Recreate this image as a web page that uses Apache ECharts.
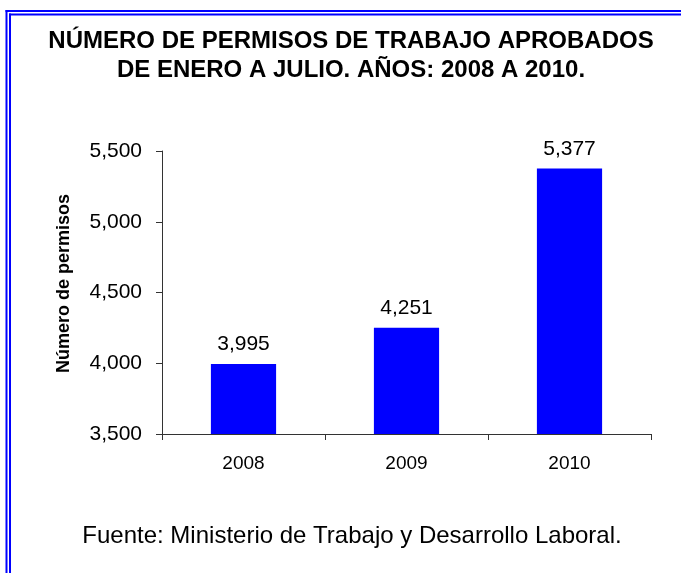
<!DOCTYPE html>
<html>
<head>
<meta charset="utf-8">
<script src="https://cdn.jsdelivr.net/npm/echarts@6/dist/echarts.min.js"></script>
<style>
  html, body { margin: 0; padding: 0; background: #fff; }
  #chart { width: 681px; height: 573px; }
</style>
</head>
<body>
<div id="chart"></div>
<script>
// datos del grafico
var years = ['2008', '2009', '2010'];
var permisos = [3995, 4251, 5377];
var yTicks = [3500, 4000, 4500, 5000, 5500];

var chart = echarts.init(document.getElementById('chart'));

function conComa(v) {
    return String(v).replace(/\B(?=(\d{3})+(?!\d))/g, ',');
}

var azul = '#0000ff';
var fuente = 'Liberation Sans, Arial, sans-serif';

var option = {
    backgroundColor: '#fff',
    animation: false,
    title: [{
        text: 'NÚMERO DE PERMISOS DE TRABAJO APROBADOS\nDE ENERO A JULIO. AÑOS: 2008 A 2010.',
        left: 346,
        top: 22,
        textAlign: 'center',
        textStyle: {
            fontFamily: fuente,
            fontSize: 24,
            fontWeight: 'bold',
            lineHeight: 29,
            color: '#000'
        }
    }, {
        text: 'Fuente: Ministerio de Trabajo y Desarrollo Laboral.',
        left: 347,
        top: 519,
        textAlign: 'center',
        textStyle: {
            fontFamily: fuente,
            fontSize: 24,
            fontWeight: 'normal',
            color: '#000'
        }
    }],
    grid: {
        left: 162,
        right: 30,
        top: 151,
        bottom: 139
    },
    xAxis: {
        type: 'category',
        data: years,
        axisLine: { lineStyle: { color: '#333', width: 1 } },
        axisTick: { show: true, length: 6, lineStyle: { color: '#333' } },
        axisLabel: {
            margin: 20,
            fontFamily: fuente,
            fontSize: 19,
            color: '#000'
        }
    },
    yAxis: {
        type: 'value',
        min: yTicks[0],
        max: yTicks[yTicks.length - 1],
        interval: 500,
        name: 'Número de permisos',
        nameLocation: 'middle',
        nameGap: 89,
        nameTextStyle: {
            fontFamily: fuente,
            fontSize: 18,
            fontWeight: 'bold',
            color: '#000',
            padding: [0, 0, 0, 18]
        },
        axisLine: { show: true, lineStyle: { color: '#333', width: 1 } },
        axisTick: { show: true, length: 6, lineStyle: { color: '#333' } },
        splitLine: { show: false },
        axisLabel: {
            margin: 20,
            fontFamily: fuente,
            fontSize: 21,
            color: '#000',
            formatter: function(v) { return conComa(v); }
        }
    },
    series: [{
        type: 'bar',
        data: permisos,
        barCategoryGap: '60%',
        itemStyle: { color: azul },
        label: {
            show: true,
            position: 'top',
            distance: 9,
            fontFamily: fuente,
            fontSize: 21,
            color: '#000',
            formatter: function(p) { return conComa(p.value); }
        }
    }],
    // marco doble azul (izquierda y arriba)
    graphic: [
        { type: 'line', silent: true, shape: { x1: 6.5, y1: 10, x2: 6.5, y2: 573 }, style: { stroke: azul, lineWidth: 2 } },
        { type: 'line', silent: true, shape: { x1: 10, y1: 13.5, x2: 10, y2: 573 }, style: { stroke: azul, lineWidth: 2 } },
        { type: 'line', silent: true, shape: { x1: 5.5, y1: 11, x2: 681, y2: 11 }, style: { stroke: azul, lineWidth: 2 } },
        { type: 'line', silent: true, shape: { x1: 9, y1: 14.5, x2: 681, y2: 14.5 }, style: { stroke: azul, lineWidth: 2 } }
    ]
};

chart.setOption(option);
</script>
</body>
</html>
